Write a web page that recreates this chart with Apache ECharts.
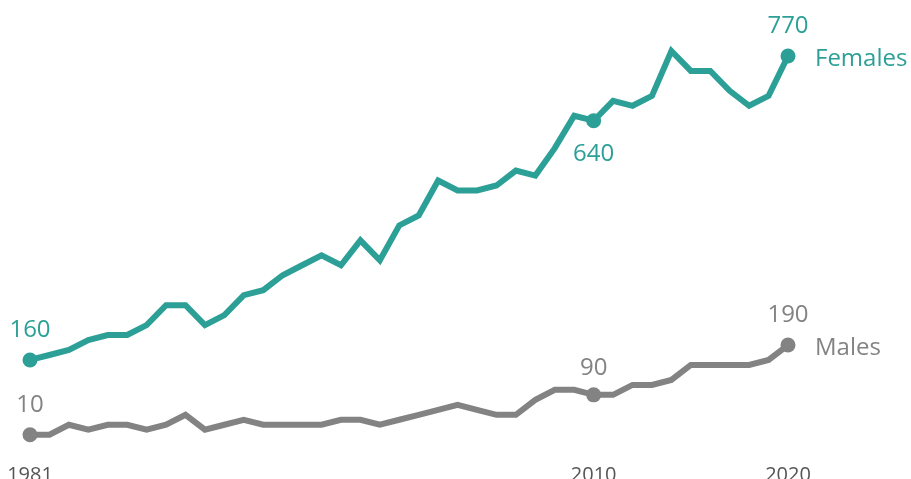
<!DOCTYPE html>
<html>
<head>
<meta charset="utf-8">
<script src="https://cdn.jsdelivr.net/npm/echarts@6/dist/echarts.min.js"></script>
<style>
html,body{margin:0;padding:0;background:#fff;}
#chart{width:911px;height:479px;}
</style>
</head>
<body>
<div id="chart"></div>
<script>
var years = [];
for (var y = 1981; y <= 2020; y++) years.push(String(y));
var shownYears = ['1981', '2010', '2020'];
var females = [160,170,180,200,210,210,230,270,270,230,250,290,300,330,350,370,350,400,360,430,
               450,520,500,500,510,540,530,585,650,640,680,670,690,780,740,740,700,670,690,770];
var males = [10,10,30,20,30,30,20,30,50,20,30,40,30,30,30,30,40,40,30,40,
             50,60,70,60,50,50,80,100,100,90,90,110,110,120,150,150,150,150,160,190];
var femaleMarked = {0:['top',10], 29:['bottom',14], 39:['top',10]};
var maleMarked = {0:['top',10], 29:['top',7], 39:['top',10]};

var TEAL = '#2ca096';
var GRAY = '#838383';
var FONT = 'Open Sans';

function buildData(values, marked, color) {
  return values.map(function (v, i) {
    if (marked[i]) {
      return {
        value: v,
        symbol: 'circle',
        symbolSize: 15,
        label: {
          show: true,
          position: marked[i][0],
          distance: marked[i][1],
          color: color,
          fontSize: 24,
          fontFamily: FONT
        }
      };
    }
    return { value: v, symbol: 'none' };
  });
}

function makeSeries(name, values, marked, color) {
  return {
    name: name,
    type: 'line',
    data: buildData(values, marked, color),
    showSymbol: true,
    lineStyle: { color: color, width: 6, join: 'miter' },
    itemStyle: { color: color },
    emphasis: { disabled: true },
    animation: false,
    endLabel: {
      show: true,
      formatter: name,
      distance: 27,
      offset: [0, 3],
      color: color,
      fontSize: 24,
      fontFamily: FONT
    }
  };
}

var chart = echarts.init(document.getElementById('chart'));
chart.setOption({
  animation: false,
  grid: { left: 30, right: 123, top: 41, bottom: 39.3, containLabel: false, outerBoundsMode: 'none' },
  xAxis: {
    type: 'category',
    data: years,
    boundaryGap: false,
    axisLine: { show: false },
    axisTick: { show: false },
    axisLabel: {
      interval: function (idx, val) { return shownYears.indexOf(val) >= 0; },
      color: '#555555',
      fontSize: 20,
      fontFamily: FONT,
      margin: 26
    }
  },
  yAxis: {
    type: 'value',
    min: 0,
    max: 800,
    show: false,
    splitLine: { show: false }
  },
  series: [
    makeSeries('Females', females, femaleMarked, TEAL),
    makeSeries('Males', males, maleMarked, GRAY)
  ]
});
</script>
</body>
</html>
